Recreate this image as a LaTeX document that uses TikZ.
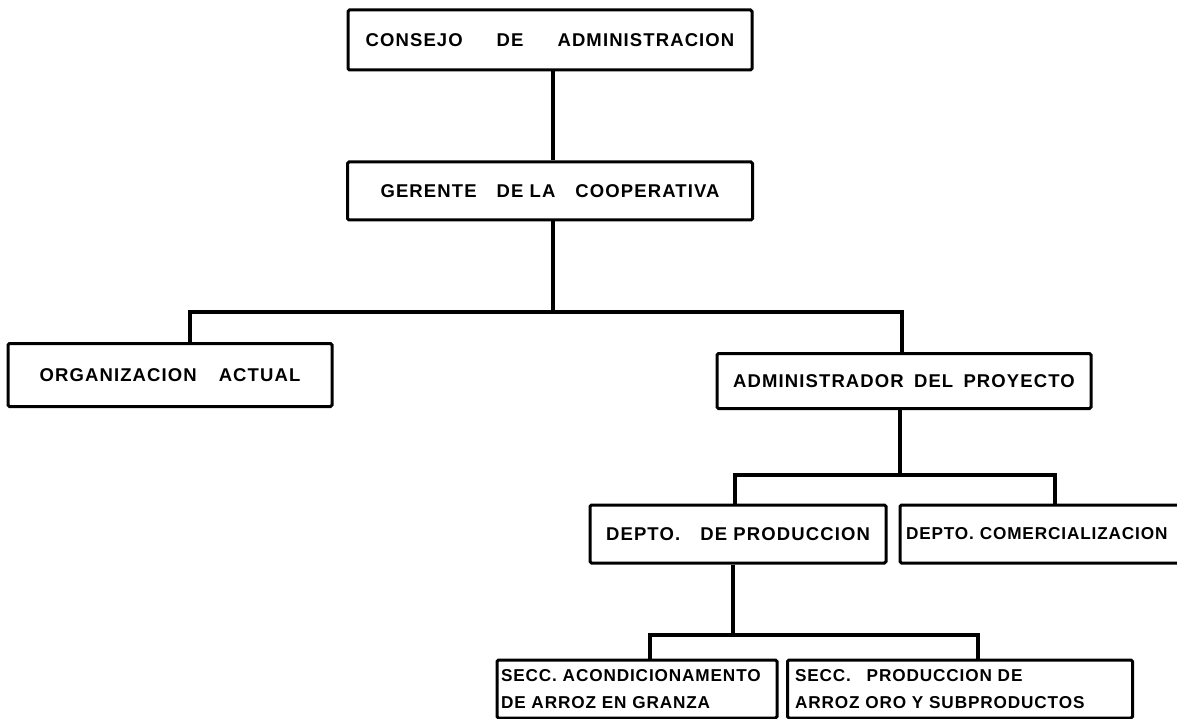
\documentclass[tikz,border=0pt]{standalone}
\usepackage{fontspec}
\setmainfont{Liberation Sans}
\newcommand\boxfont{\fontsize{18.5}{26}\selectfont\bfseries\addfontfeature{LetterSpace=6}}
\newcommand\smallboxfont{\fontsize{17.2}{27}\selectfont\bfseries\addfontfeature{LetterSpace=5}}
\begin{document}
\begin{tikzpicture}[x=1pt,y=-1pt,
  box/.style={draw, line width=3pt, rounded corners=1.5pt, inner sep=0pt, font=\boxfont, align=center},
  sbox/.style={box, font=\smallboxfont},
  conn/.style={line width=3.2pt}]
\useasboundingbox (0,0) rectangle (1177,719);
\node[box, minimum width=404, minimum height=60] (b1) at (550,40) {CONSEJO\hspace{34pt}DE\hspace{34pt}ADMINISTRACION};
\node[box, minimum width=405, minimum height=58] (b2) at (550,191) {GERENTE\hspace{20pt}DE LA\hspace{20pt}COOPERATIVA};
\node[box, minimum width=324, minimum height=63] (org) at (170,375) {ORGANIZACION\hspace{22pt}ACTUAL};
\node[box, minimum width=374, minimum height=55] (adm) at (904,381) {ADMINISTRADOR\hspace{4pt} DEL\hspace{4pt} PROYECTO};
\node[box, minimum width=296, minimum height=58] (dp) at (738,534) {DEPTO.\hspace{14pt} DE PRODUCCION};
\node[sbox, minimum width=290, minimum height=58, text width=278, align=left] (dc) at (1045,534) {DEPTO. COMERCIALIZACION};
\node[sbox, minimum width=280, minimum height=58, text width=272, align=left] (s1) at (637,689) {SECC. ACONDICIONAMENTO\\DE ARROZ EN GRANZA};
\node[sbox, minimum width=345, minimum height=58, text width=330, align=left] (s2) at (960,689) {SECC.\hspace{10pt} PRODUCCION DE\\ARROZ ORO Y SUBPRODUCTOS};
\coordinate (t1) at (553,312);
\coordinate (h1l) at (190,312);
\coordinate (h1r) at (902,312);
\coordinate (t2) at (900,475);
\coordinate (h2l) at (735,475);
\coordinate (h2r) at (1055,475);
\coordinate (t3) at (733,635);
\coordinate (h3l) at (650,635);
\coordinate (h3r) at (978,635);
\draw[conn] (b1.south -| t1) -- (b2.north -| t1);
\draw[conn] (b2.south -| t1) -- (t1);
\draw[conn] (org.north -| h1l) -- (h1l) -- (h1r) -- (adm.north -| h1r);
\draw[conn] (adm.south -| t2) -- (t2);
\draw[conn] (dp.north -| h2l) -- (h2l) -- (h2r) -- (dc.north -| h2r);
\draw[conn] (dp.south -| t3) -- (t3);
\draw[conn] (s1.north -| h3l) -- (h3l) -- (h3r) -- (s2.north -| h3r);
\end{tikzpicture}
\end{document}
